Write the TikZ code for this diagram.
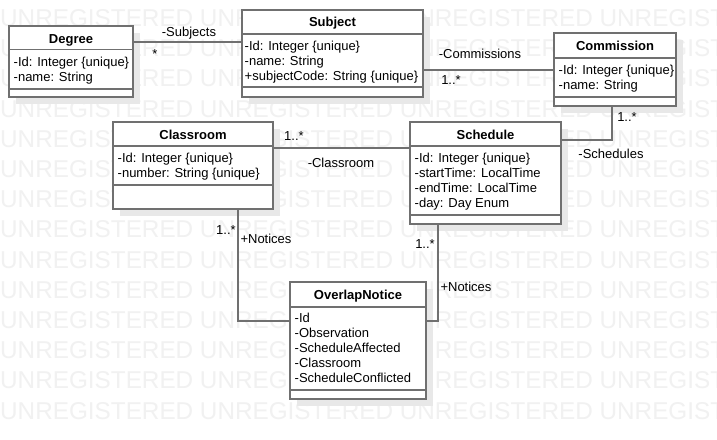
\documentclass[tikz,border=0pt]{standalone}
\usepackage{fontspec}
\setmainfont{Liberation Sans}
\usetikzlibrary{shadows}
\definecolor{umlline}{RGB}{112,112,112}
\definecolor{umlshadow}{RGB}{232,232,232}
\definecolor{umlmark}{RGB}{241,241,241}
\tikzset{
  classbox/.style={draw=umlline, line width=1.6pt, fill=white, inner sep=0pt, outer sep=0pt,
    anchor=north west, drop shadow={shadow xshift=7pt, shadow yshift=-7pt, fill=umlshadow, opacity=1}},
  classline/.style={draw=umlline, line width=1.6pt},
  classtitle/.style={font=\bfseries\fontsize{13pt}{15pt}\selectfont, anchor=base, inner sep=0pt},
  attr/.style={font=\fontsize{13pt}{15pt}\selectfont, anchor=base west, inner sep=0pt},
  assoc/.style={draw=umlline, line width=1.6pt},
  role/.style={font=\fontsize{13pt}{15pt}\selectfont, anchor=base, inner sep=0pt},
  watermark/.style={font=\fontsize{24.3pt}{26pt}\selectfont, text=umlmark, anchor=base west, inner sep=0pt}
}
\begin{document}
\begin{tikzpicture}[x=1pt, y=-1pt]
   \useasboundingbox[fill=white] (0,0) rectangle (717,439);
   % background mark
   \foreach \r in {0,...,13}
      \node[watermark] (mark\r) at (0,{26.5+30.2*\r}) {UNREGISTERED UNREGISTERED UNREGISTERED UNREGISTERED};
   % Degree
   \node[classbox, minimum width=124pt, minimum height=71pt] (degree) at (9,26) {};
   \draw[classline] ([yshift=-23.5pt]degree.north west) -- ([yshift=-23.5pt]degree.north east);
   \draw[classline] ([yshift=-63pt]degree.north west) -- ([yshift=-63pt]degree.north east);
   \node[classtitle] (degree-t) at ([yshift=-17pt]degree.north) {Degree};
   \foreach \txt [count=\i] in {-Id: Integer \{unique\}, -name: String}
      \node[attr] (degree-\i) at ([xshift=4.5pt, yshift={-(40+15*(\i-1))*1pt}]degree.north west) {\txt};
   % Subject
   \node[classbox, minimum width=181pt, minimum height=87pt] (subject) at (242,10) {};
   \draw[classline] ([yshift=-24pt]subject.north west) -- ([yshift=-24pt]subject.north east);
   \draw[classline] ([yshift=-77pt]subject.north west) -- ([yshift=-77pt]subject.north east);
   \node[classtitle] (subject-t) at ([yshift=-17pt]subject.north) {Subject};
   \foreach \txt [count=\i] in {-Id: Integer \{unique\}, -name: String, +subjectCode: String \{unique\}}
      \node[attr] (subject-\i) at ([xshift=2.5pt, yshift={-(40+15*(\i-1))*1pt}]subject.north west) {\txt};
   % Commission
   \node[classbox, minimum width=122pt, minimum height=73pt] (commission) at (554,33) {};
   \draw[classline] ([yshift=-25pt]commission.north west) -- ([yshift=-25pt]commission.north east);
   \draw[classline] ([yshift=-64pt]commission.north west) -- ([yshift=-64pt]commission.north east);
   \node[classtitle] (commission-t) at ([yshift=-17.5pt]commission.north) {Commission};
   \foreach \txt [count=\i] in {-Id: Integer \{unique\}, -name: String}
      \node[attr] (commission-\i) at ([xshift=4.5pt, yshift={-(41+15*(\i-1))*1pt}]commission.north west) {\txt};
   % Classroom
   \node[classbox, minimum width=160pt, minimum height=87pt] (classroom) at (113,122) {};
   \draw[classline] ([yshift=-24pt]classroom.north west) -- ([yshift=-24pt]classroom.north east);
   \draw[classline] ([yshift=-63pt]classroom.north west) -- ([yshift=-63pt]classroom.north east);
   \node[classtitle] (classroom-t) at ([yshift=-17pt]classroom.north) {Classroom};
   \foreach \txt [count=\i] in {-Id: Integer \{unique\}, -number: String \{unique\}}
      \node[attr] (classroom-\i) at ([xshift=4.5pt, yshift={-(40+15*(\i-1))*1pt}]classroom.north west) {\txt};
   % Schedule
   \node[classbox, minimum width=151pt, minimum height=102pt] (schedule) at (410,122) {};
   \draw[classline] ([yshift=-24pt]schedule.north west) -- ([yshift=-24pt]schedule.north east);
   \draw[classline] ([yshift=-93pt]schedule.north west) -- ([yshift=-93pt]schedule.north east);
   \node[classtitle] (schedule-t) at ([yshift=-17pt]schedule.north) {Schedule};
   \foreach \txt [count=\i] in {-Id: Integer \{unique\}, -startTime: LocalTime, -endTime: LocalTime, -day: Day Enum}
      \node[attr] (schedule-\i) at ([xshift=4.5pt, yshift={-(40+15*(\i-1))*1pt}]schedule.north west) {\txt};
   % OverlapNotice
   \node[classbox, minimum width=136pt, minimum height=117pt] (overlap) at (290,282) {};
   \draw[classline] ([yshift=-25pt]overlap.north west) -- ([yshift=-25pt]overlap.north east);
   \draw[classline] ([yshift=-108pt]overlap.north west) -- ([yshift=-108pt]overlap.north east);
   \node[classtitle] (overlap-t) at ([yshift=-17pt]overlap.north) {OverlapNotice};
   \foreach \txt [count=\i] in {-Id, -Observation, -ScheduleAffected, -Classroom, -ScheduleConflicted}
      \node[attr] (overlap-\i) at ([xshift=4.5pt, yshift={-(40+15*(\i-1))*1pt}]overlap.north west) {\txt};
   % associations
   \draw[assoc] (degree.east |- 0,42) -- (subject.west |- 0,42);
   \draw[assoc] (subject.east |- 0,70) -- (commission.west |- 0,70);
   \draw[assoc] (commission.south -| 612,0) |- (schedule.east |- 0,140);
   \draw[assoc] (classroom.east |- 0,148) -- (schedule.west |- 0,148);
   \draw[assoc] (classroom.south -| 238,0) |- (overlap.west |- 0,321);
   \draw[assoc] (schedule.south -| 438,0) |- (overlap.east |- 0,321);
   % roles and multiplicities
   \node[role] (subjects-r) at (189,36.5) {-Subjects};
   \node[role] (subjects-m) at (155,58) {*};
   \node[role] (commissions-r) at (480,58.5) {-Commissions};
   \node[role] (commissions-m) at (451,84) {1..*};
   \node[role] (schedules-m) at (627,121.5) {1..*};
   \node[role] (schedules-r) at (611,158) {-Schedules};
   \node[role] (room-m) at (294,140) {1..*};
   \node[role] (room-r) at (341,167) {-Classroom};
   \node[role] (roomnotices-m) at (226,234) {1..*};
   \node[role] (roomnotices-r) at (266,243) {+Notices};
   \node[role] (schednotices-m) at (425,248) {1..*};
   \node[role] (schednotices-r) at (466,291.5) {+Notices};
\end{tikzpicture}
\end{document}
